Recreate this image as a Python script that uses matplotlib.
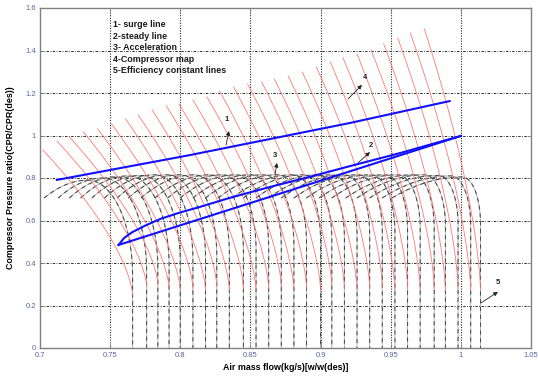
import numpy as np
import matplotlib
matplotlib.use("Agg")
import matplotlib.pyplot as plt

plt.rcParams['font.family'] = ['Liberation Sans', 'DejaVu Sans']

# ---------------- data ----------------
# x positions where each speed line becomes vertical (choke)
choke_x = [0.766, 0.776, 0.784, 0.792, 0.800, 0.809, 0.818, 0.826, 0.835, 0.845,
           0.854, 0.863, 0.872, 0.881, 0.890, 0.900, 0.908, 0.917, 0.926, 0.935,
           0.944, 0.953, 0.962, 0.971, 0.981, 0.989, 0.998, 1.007, 1.014]
# red compressor-map lines: top start points and bottom end heights
red_top_x = [0.702, 0.712, 0.721, 0.731, 0.741, 0.751, 0.761, 0.770, 0.780, 0.790,
             0.799, 0.809, 0.819, 0.828, 0.838, 0.848, 0.858, 0.867, 0.877, 0.887,
             0.897, 0.907, 0.916, 0.926, 0.936, 0.945, 0.955, 0.964, 0.974]
red_top_y = [0.932, 0.974, 0.993, 1.016, 1.031, 1.054, 1.078, 1.096, 1.120, 1.139,
             1.148, 1.167, 1.181, 1.209, 1.228, 1.242, 1.252, 1.266, 1.280, 1.299,
             1.322, 1.346, 1.365, 1.384, 1.402, 1.431, 1.459, 1.482, 1.501]
red_bot_y = [0.25, 0.29, 0.30, 0.28, 0.27, 0.28, 0.27, 0.29, 0.27, 0.28,
             0.27, 0.28, 0.29, 0.27, 0.28, 0.27, 0.29, 0.28, 0.27, 0.28,
             0.29, 0.27, 0.28, 0.27, 0.28, 0.27, 0.28, 0.27, 0.27]
# black characteristic lines: peak height, right-drop width / height
blk_top_y = [0.790, 0.800, 0.805, 0.810, 0.812, 0.815, 0.815, 0.815, 0.815, 0.815,
             0.815, 0.815, 0.815, 0.815, 0.815, 0.815, 0.815, 0.815, 0.815, 0.815,
             0.815, 0.815, 0.815, 0.815, 0.815, 0.815, 0.812, 0.810, 0.805]
blk_drop_w = [0.032, 0.031, 0.030, 0.029, 0.028, 0.027, 0.027, 0.026, 0.025, 0.024,
              0.024, 0.023, 0.022, 0.022, 0.021, 0.020, 0.020, 0.019, 0.018, 0.018,
              0.017, 0.017, 0.016, 0.016, 0.015, 0.015, 0.014, 0.014, 0.013]
blk_drop_h = [0.45, 0.44, 0.43, 0.42, 0.41, 0.40, 0.39, 0.38, 0.37, 0.36,
              0.35, 0.34, 0.34, 0.33, 0.32, 0.31, 0.30, 0.30, 0.29, 0.28,
              0.27, 0.27, 0.26, 0.25, 0.25, 0.24, 0.23, 0.23, 0.22]
blk_start_dx = 0.063
blk_start_y = 0.706

# blue lines
surge_x = [0.712, 0.807, 0.921, 0.992]
surge_y = [0.791, 0.908, 1.059, 1.162]
steady_x = [0.756, 0.878, 1.000]
steady_y = [0.485, 0.741, 0.998]
accel_x = [0.756, 0.760, 0.766, 0.775, 0.786, 0.800, 0.814, 0.835, 0.864, 0.892, 0.921, 0.957, 1.000]
accel_y = [0.485, 0.518, 0.546, 0.576, 0.608, 0.638, 0.664, 0.706, 0.758, 0.805, 0.856, 0.918, 0.998]

legend_lines = ["1- surge line", "2-steady line", "3- Acceleration",
                "4-Compressor map", "5-Efficiency constant lines"]
labels = ["1", "2", "3", "4", "5"]
label_xy = [(0.8333, 1.073), (0.936, 0.955), (0.8675, 0.908), (0.9317, 1.275), (1.0264, 0.306)]
arrow_tail = [(0.8326, 0.955), (0.9267, 0.871), (0.8675, 0.814), (0.9195, 1.172), (1.0143, 0.212)]
arrow_head = [(0.8347, 1.021), (0.9352, 0.922), (0.8689, 0.871), (0.9295, 1.238), (1.0264, 0.264)]

xticks = [0.7, 0.75, 0.8, 0.85, 0.9, 0.95, 1.0, 1.05]
xticklabels = ["0.7", "0.75", "0.8", "0.85", "0.9", "0.95", "1", "1.05"]
yticks = [0, 0.2, 0.4, 0.6, 0.8, 1.0, 1.2, 1.4, 1.6]
yticklabels = ["0", "0.2", "0.4", "0.6", "0.8", "1", "1.2", "1.4", "1.6"]

# ---------------- figure ----------------
fig = plt.figure(figsize=(5.38, 3.81), dpi=100)
ax = fig.add_axes([40/538, 33/381, 491/538, 340/381])
ax.set_xlim(0.7, 1.05)
ax.set_ylim(0, 1.6)

# grid
for xv in xticks[1:-1]:
    ax.axvline(xv, color='#2a2a2a', lw=0.8, ls=(0, (1, 1.3)), zorder=1)
for yv in yticks[1:-1]:
    ax.axhline(yv, color='#2a2a2a', lw=0.7, ls=(0, (2.5, 1.5, 0.8, 1.5)), zorder=1)

# red compressor map lines
p = 1.5
u = np.linspace(0, 1, 80)
for xt, yt, xb, yb in zip(red_top_x, red_top_y, choke_x, red_bot_y):
    xs = xb - (xb - xt) * u**p
    ys = yb + (yt - yb) * u
    ax.plot(xs, ys, color='#ff7878', lw=0.6, zorder=3)

# black characteristic lines
for xv, yt, a, b in zip(choke_x, blk_top_y, blk_drop_w, blk_drop_h):
    xs0 = xv - blk_start_dx
    xtop = xv - a
    xr = np.linspace(xs0, xtop, 30)
    yr = yt - (yt - blk_start_y) * ((xtop - xr) / (xtop - xs0))**2
    t = np.linspace(np.pi/2, 0, 30)
    xd = xv - a + a*np.cos(t)
    yd = yt - b + b*np.sin(t)
    X = np.concatenate([xr, xd, [xv]])
    Y = np.concatenate([yr, yd, [0.0]])
    ax.plot(X, Y, color='#b4b4b4', lw=0.7, zorder=2)
    ax.plot(X, Y, color='#4a4a4a', lw=0.75, dashes=(4, 3.5), zorder=2.5)

# blue lines
ax.plot(surge_x, surge_y, color='#1010ff', lw=1.5, zorder=5)
ax.plot(steady_x, steady_y, color='#1010ff', lw=1.5, zorder=5)
ax.plot(accel_x, accel_y, color='#1010ff', lw=1.5, zorder=5)

# labels with arrows
for lab, (lx, ly), tail, head in zip(labels, label_xy, arrow_tail, arrow_head):
    ax.text(lx, ly, lab, fontsize=5.5, fontweight='bold', color='#222222',
            ha='center', va='center', zorder=7)
    ax.annotate('', xy=head, xytext=tail,
                arrowprops=dict(arrowstyle='-|>', lw=0.6, color='#222222',
                                mutation_scale=6, shrinkA=0, shrinkB=0), zorder=7)

# legend text
for k, s in enumerate(legend_lines):
    ax.text(0.752, 1.522 - k*0.0545, s, fontsize=6.4, fontweight='bold',
            color='#1a1a1a', ha='left', va='center', zorder=7)

# axes styling
ax.set_xticks(xticks)
ax.set_xticklabels(xticklabels)
ax.set_yticks(yticks)
ax.set_yticklabels(yticklabels)
ax.tick_params(direction='in', length=3, width=0.6, color='#808080',
               labelsize=5.5, labelcolor='#5a64a0', pad=3, top=True, right=True)
for sp in ax.spines.values():
    sp.set_color('#808080')
    sp.set_linewidth(1.0)

ax.set_xlabel('Air mass flow(kg/s)[w/w(des)]', fontsize=6.4, fontweight='bold', labelpad=3)
ax.set_ylabel('Compressor Pressure ratio(CPR/CPR(des))', fontsize=6.4, fontweight='bold', labelpad=7)

fig.savefig('out.png', dpi=100)
